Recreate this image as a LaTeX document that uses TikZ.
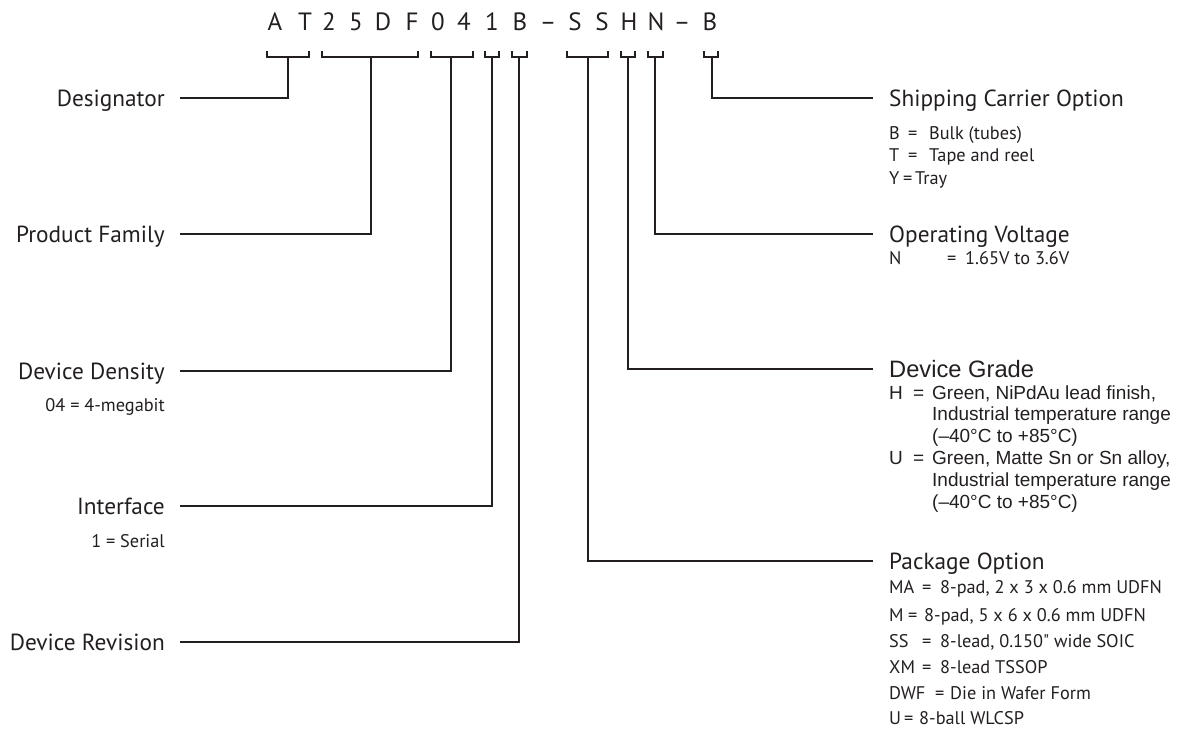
\documentclass[tikz,border=0pt]{standalone}
\usepackage{fontspec}
\setmainfont{PT Sans}
\newfontfamily\ptq{PT Sans}
\newfontfamily\arialf{Liberation Sans}
\definecolor{ink}{HTML}{231F20}
\begin{document}
\begin{tikzpicture}[x=1pt,y=-1pt,
  conn/.style={draw=ink, line width=1.8pt},
  pn/.style={font=\fontsize{25}{30}\selectfont, text=ink, inner sep=0pt, text height=17pt, text depth=0pt},
  lbl/.style={font=\fontsize{23.3}{28}\selectfont, text=ink, inner ysep=0pt, text height=16.4pt, text depth=0pt},
  llbl/.style={lbl, anchor=east, inner xsep=15pt},
  rlbl/.style={lbl, anchor=west, inner xsep=16pt},
  sub/.style={font=\fontsize{18.3}{22.5}\selectfont, text=ink, inner sep=0pt},
  asub/.style={font=\arialf\fontsize{19}{21.8}\selectfont, text=ink, inner sep=0pt}
]
\useasboundingbox (0,0) rectangle (1183,729);

% part number characters
\foreach \ch/\xx [count=\i] in {A/275, T/305, 2/329, 5/356, D/383, F/412, 0/438, 4/464, 1/492, B/520, –/548, S/575, S/602, H/629, N/656, –/682, B/710}
  \node[pn] (c\i) at (\xx,21.5) {\ch};

% brackets
\foreach \xa/\xb [count=\i] in {267/309, 322/418, 431/473, 485/499, 512/527, 567/608, 621/635, 648/663, 704/718}
  \draw[conn, line join=miter] (\xa,51) -- (\xa,57) -- (\xb,57) -- (\xb,51);

\coordinate (b1) at (288,57);
\coordinate (b2) at (371,57);
\coordinate (b3) at (451,57);
\coordinate (b4) at (492,57);
\coordinate (b5) at (519,57);
\coordinate (b6) at (588,57);
\coordinate (b7) at (628,57);
\coordinate (b8) at (655,57);
\coordinate (b9) at (712,57);

% left labels
\node[llbl] (desig) at (180,98) {Designator};
\node[llbl] (prodfam) at (180,234) {Product Family};
\node[llbl] (density) at (180,371) {Device Density};
\node[sub, anchor=base east] (densitysub) at (165,411) {04 = 4-megabit};
\node[llbl] (iface) at (180,506) {Interface};
\node[sub, anchor=base east] (ifacesub) at (165,547) {1 = Serial};
\node[llbl] (rev) at (180,642) {Device Revision};

% right labels
\node[rlbl] (ship) at (873,98) {Shipping Carrier Option};
\node[sub, anchor=base west] (shipsub) at (889,139) {\begin{tabular}[t]{@{}l@{}}
\makebox[16pt][l]{B}\makebox[24pt][l]{\,=}Bulk (tubes)\\
\makebox[16pt][l]{T}\makebox[24pt][l]{\,=}Tape and reel\\
\makebox[14pt][l]{Y}\makebox[12pt][l]{=}Tray
\end{tabular}};
\node[rlbl] (volt) at (873,234) {Operating Voltage};
\node[sub, anchor=base west] (voltsub) at (889,264) {\makebox[58pt][l]{N}\makebox[18pt][l]{=}1.65V to 3.6V};
\node[rlbl, font=\arialf\fontsize{23.7}{28}\selectfont] (grade) at (873,369) {Device Grade};
\node[asub, anchor=base west] (gradesub) at (889,399) {\begin{tabular}[t]{@{}l@{}}
\makebox[24pt][l]{H}\makebox[19pt][l]{=}Green, NiPdAu lead finish,\\
\hspace*{43pt}Industrial temperature range\\
\hspace*{43pt}(–40°C to +85°C)\\
\makebox[24pt][l]{U}\makebox[19pt][l]{=}Green, Matte Sn or Sn alloy,\\
\hspace*{43pt}Industrial temperature range\\
\hspace*{43pt}(–40°C to +85°C)
\end{tabular}};
\node[rlbl] (pkg) at (873,561) {Package Option};
\node[sub, anchor=base west] (pkg1) at (889,593) {\makebox[33pt][l]{MA}\makebox[18pt][l]{=}8-pad, 2 x 3 x 0.6 mm UDFN};
\node[sub, anchor=base west] (pkg2) at (889,621) {\makebox[19pt][l]{M}\makebox[16pt][l]{=}8-pad, 5 x 6 x 0.6 mm UDFN};
\node[sub, anchor=base west] (pkg3) at (889,647) {\makebox[33pt][l]{SS}\makebox[18pt][l]{=}8-lead, 0.150{\ptq"} wide SOIC};
\node[sub, anchor=base west] (pkg4) at (889,673) {\makebox[33pt][l]{XM}\makebox[18pt][l]{=}8-lead TSSOP};
\node[sub, anchor=base west] (pkg5) at (889,699) {\makebox[46pt][l]{DWF}\makebox[15pt][l]{=}Die in Wafer Form};
\node[sub, anchor=base west] (pkg6) at (889,724) {\makebox[15pt][l]{U}\makebox[15pt][l]{=}8-ball WLCSP};

% connectors
\draw[conn] (b1) |- (desig.east);
\draw[conn] (b2) |- (prodfam.east);
\draw[conn] (b3) |- (density.east);
\draw[conn] (b4) |- (iface.east);
\draw[conn] (b5) |- (rev.east);
\draw[conn] (b6) |- (pkg.west);
\draw[conn] (b7) |- (grade.west);
\draw[conn] (b8) |- (volt.west);
\draw[conn] (b9) |- (ship.west);
\end{tikzpicture}
\end{document}
